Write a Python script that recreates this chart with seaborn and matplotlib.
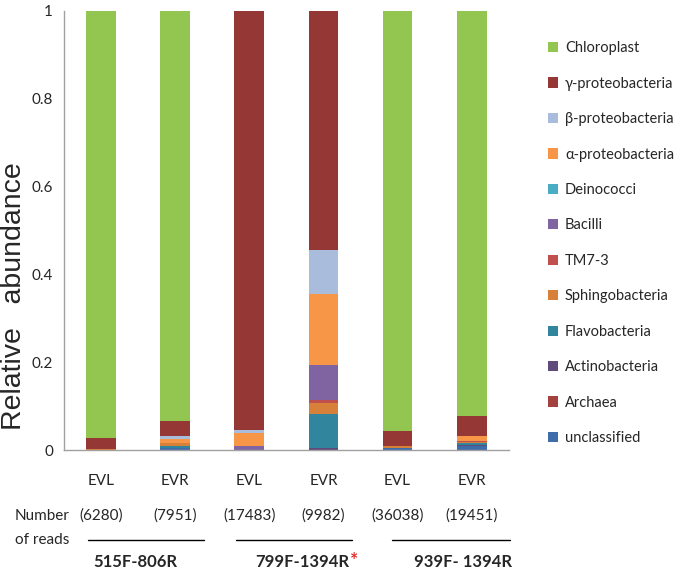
import matplotlib
matplotlib.use("Agg")
import matplotlib.pyplot as plt
import matplotlib.transforms as mtransforms
from matplotlib.patches import Patch
import seaborn as sns
import pandas as pd
import numpy as np

# samples (two per primer pair)
samples = ["515_EVL", "515_EVR", "799_EVL", "799_EVR", "939_EVL", "939_EVR"]
sample_labels = ["EVL", "EVR", "EVL", "EVR", "EVL", "EVR"]
read_counts = ["(6280)", "(7951)", "(17483)", "(9982)", "(36038)", "(19451)"]
primer_groups = ["515F-806R", "799F-1394R", "939F- 1394R"]

# stacking order, bottom to top
taxa = ["unclassified", "Archaea", "Actinobacteria", "Flavobacteria",
        "Sphingobacteria", "TM7-3", "Bacilli", "Deinococci",
        "α-proteobacteria", "β-proteobacteria", "γ-proteobacteria", "Chloroplast"]

unclassified = [0.0, 0.004, 0.0, 0.0, 0.005, 0.008]
archaea = [0.0, 0.0, 0.0, 0.0, 0.0, 0.0]
actinobacteria = [0.0, 0.0, 0.0, 0.005, 0.0, 0.003]
flavobacteria = [0.0, 0.006, 0.0, 0.077, 0.0, 0.004]
sphingobacteria = [0.003, 0.005, 0.0, 0.024, 0.004, 0.003]
tm7_3 = [0.0, 0.0, 0.0, 0.008, 0.0, 0.002]
bacilli = [0.0, 0.0, 0.010, 0.080, 0.0, 0.0]
deinococci = [0.0, 0.0, 0.0, 0.0, 0.0, 0.0]
alpha = [0.0, 0.009, 0.028, 0.161, 0.0, 0.012]
beta = [0.0, 0.008, 0.008, 0.100, 0.0, 0.0]
gamma = [0.025, 0.033, 0.954, 0.545, 0.035, 0.046]
chloroplast = [0.972, 0.935, 0.0, 0.0, 0.956, 0.922]

colors = ["#3F6DAA", "#A3413E", "#60497B", "#31859C", "#D7803A", "#C0504D",
          "#8064A2", "#4BACC6", "#F79646", "#A9BCDB", "#953735", "#92C650"]

values = [unclassified, archaea, actinobacteria, flavobacteria, sphingobacteria,
          tm7_3, bacilli, deinococci, alpha, beta, gamma, chloroplast]

df = pd.DataFrame(dict(zip(taxa, values)), index=samples)
cum = df.cumsum(axis=1)

sns.set_style("white")
plt.rcParams['font.family'] = ['Lato', 'DejaVu Sans']

fig = plt.figure(figsize=(6.78, 5.71), dpi=100)
ax = fig.add_axes([0.0944, 0.2119, 0.656, 0.769])

# draw cumulative totals from the top layer down so lower layers sit on top
for taxon, col in reversed(list(zip(taxa, colors))):
    plot_df = pd.DataFrame({"sample": samples, "value": cum[taxon].values})
    sns.barplot(data=plot_df, x="sample", y="value", order=samples, color=col,
                width=0.4, saturation=1, linewidth=0, ax=ax)

ax.set_xlim(-0.5, 5.5)
ax.set_ylim(0, 1)
ax.set_yticks([0, 0.2, 0.4, 0.6, 0.8, 1])
ax.set_yticklabels(["0", "0.2", "0.4", "0.6", "0.8", "1"], fontsize=11)
ax.set_xticks(range(len(samples)))
ax.set_xticklabels(sample_labels, fontsize=11)
ax.set_xticks(np.arange(-0.5, 6, 1), minor=True)
ax.tick_params(axis="x", which="major", length=0, pad=17)
ax.tick_params(axis="x", which="minor", length=6, color="#A0A0A0", direction="out")
ax.tick_params(axis="y", length=5, color="#A0A0A0", direction="out", pad=3)
ax.set_xlabel("")
ax.set_ylabel("")
ax.text(-0.112, 0.35, "Relative   abundance", transform=ax.transAxes,
        rotation=90, ha="center", va="center", fontsize=20.5,
        family="Liberation Sans")

for side in ["top", "right"]:
    ax.spines[side].set_visible(False)
for side in ["left", "bottom"]:
    ax.spines[side].set_color("#A0A0A0")
    ax.spines[side].set_linewidth(1)

trans = mtransforms.blended_transform_factory(ax.transData, ax.transAxes)

# read counts under each sample
for i, rc in enumerate(read_counts):
    ax.text(i, -0.15, rc, transform=trans, ha="center", va="center", fontsize=11)
fig.text(0.022, 0.075, "Number\nof reads", ha="left", va="center", fontsize=11,
         linespacing=1.85)

# primer group underlines and names
line_spans = [(-0.17, 1.39), (1.82, 3.38), (3.92, 5.51)]
label_x = [0.46, 2.72, 4.88]
for (x0, x1), lx, name in zip(line_spans, label_x, primer_groups):
    ax.plot([x0, x1], [-0.205, -0.205], transform=trans, color="black",
            linewidth=1, clip_on=False)
    t = ax.text(lx, -0.254, name, transform=trans, ha="center", va="center",
                fontsize=12, fontweight="bold")
    if name == "799F-1394R":
        ax.annotate("*", xy=(1, 0.55), xycoords=t, ha="left", va="center",
                    color="#E03030", fontsize=14, fontweight="bold")

# legend, top to bottom
handles = [Patch(facecolor=c, edgecolor="none") for c in colors][::-1]
fig.legend(handles, taxa[::-1], loc="upper left", bbox_to_anchor=(0.80, 0.938),
           frameon=False, fontsize=10.5, handlelength=0.7, handleheight=0.7,
           handletextpad=0.45, labelspacing=1.47, borderaxespad=0)

fig.savefig("out.png", dpi=100)
